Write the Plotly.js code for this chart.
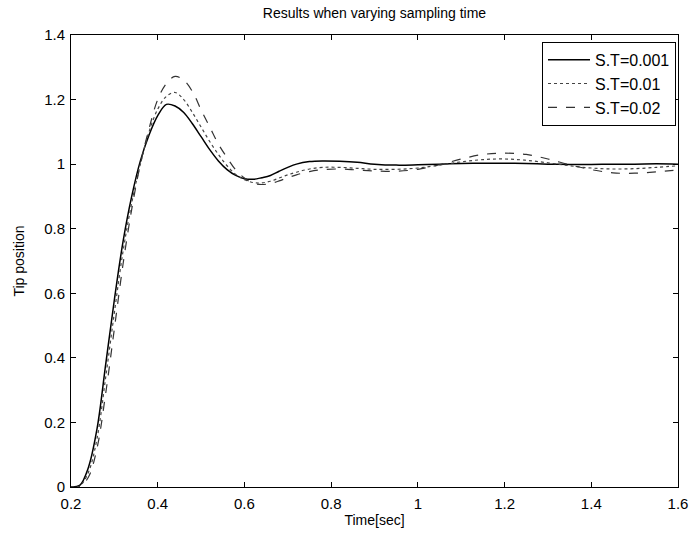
<!DOCTYPE html>
<html>
<head>
<meta charset="utf-8">
<script src="https://cdn.plot.ly/plotly-3.0.1.min.js"></script>
<style>html,body{margin:0;padding:0;background:#fff;}#chart{width:694px;height:541px;}</style>
</head>
<body>
<div id="chart"></div>
<script>
const time = [0.20,0.22,0.24,0.26,0.28,0.30,0.32,0.34,0.36,0.38,0.40,0.42,0.44,0.46,0.48,0.50,0.52,0.54,0.56,0.58,0.60,0.62,0.64,0.66,0.68,0.70,0.72,0.75,0.78,0.82,0.86,0.90,0.95,1.00,1.05,1.10,1.15,1.20,1.25,1.30,1.35,1.40,1.45,1.50,1.55,1.60];
const st001 = [0,0.005,0.06,0.18,0.38,0.58,0.76,0.90,1.01,1.09,1.15,1.185,1.18,1.16,1.125,1.085,1.045,1.01,0.983,0.965,0.955,0.953,0.958,0.965,0.978,0.99,1.0,1.008,1.01,1.009,1.006,1.0,0.997,0.998,1.0,1.002,1.003,1.003,1.002,1.0,0.999,0.999,1.0,1.0,1.001,1.0];
const st01 = [0,0.003,0.045,0.15,0.34,0.54,0.73,0.88,1.0,1.1,1.17,1.21,1.222,1.2,1.16,1.115,1.07,1.03,0.995,0.968,0.952,0.943,0.942,0.947,0.957,0.967,0.975,0.985,0.99,0.99,0.987,0.984,0.984,0.988,0.997,1.007,1.014,1.016,1.012,1.004,0.995,0.988,0.985,0.986,0.99,0.995];
const st02 = [0,0.001,0.03,0.12,0.29,0.49,0.69,0.86,1.0,1.11,1.2,1.25,1.272,1.26,1.225,1.168,1.115,1.062,1.02,0.982,0.957,0.941,0.937,0.94,0.948,0.958,0.967,0.977,0.983,0.985,0.982,0.979,0.978,0.984,0.998,1.016,1.03,1.034,1.03,1.016,0.998,0.983,0.973,0.972,0.976,0.982];
const names = ['S.T=0.001','S.T=0.01','S.T=0.02'];
const xTicks = [0.2,0.4,0.6,0.8,1,1.2,1.4,1.6];
const yTicks = [0,0.2,0.4,0.6,0.8,1,1.2,1.4];

const fam = '"Liberation Sans", Arial, sans-serif';
const traces = [
  {x: time, y: st001, name: names[0], mode: 'lines', line: {color: '#000', width: 1.5, shape: 'spline', dash: 'solid'}},
  {x: time, y: st01, name: names[1], mode: 'lines', line: {color: '#444', width: 1.2, shape: 'spline', dash: 'dot'}},
  {x: time, y: st02, name: names[2], mode: 'lines', line: {color: '#333', width: 1.2, shape: 'spline', dash: 'dash'}}
];
const axisCommon = {showgrid: false, zeroline: false, showline: true, linecolor: '#000', linewidth: 1,
  mirror: 'ticks', ticks: 'inside', ticklen: 5, tickcolor: '#000', tickfont: {family: fam, size: 15, color: '#000'}};
const layout = {
  width: 694, height: 541,
  margin: {l: 71, r: 16, t: 35, b: 54},
  paper_bgcolor: '#fff', plot_bgcolor: '#fff',
  font: {family: fam, size: 14, color: '#000'},
  title: {text: 'Results when varying sampling time', font: {family: fam, size: 14, color: '#000'}, xref: 'paper', x: 0.5, xanchor: 'center', yref: 'container', y: 0.975, yanchor: 'middle'},
  xaxis: Object.assign({}, axisCommon, {range: [0.2, 1.6], tickvals: xTicks, ticklabelstandoff: 3, title: {text: 'Time[sec]', font: {family: fam, size: 14}, standoff: 4}}),
  yaxis: Object.assign({}, axisCommon, {range: [0, 1.4], tickvals: yTicks, ticklabelstandoff: 2, title: {text: 'Tip position', font: {family: fam, size: 14}, standoff: 16}}),
  showlegend: true,
  legend: {x: 0.9967, xanchor: 'right', y: 0.985, yanchor: 'top', bgcolor: '#fff', bordercolor: '#000', borderwidth: 1,
    font: {family: fam, size: 16, color: '#000'}, tracegroupgap: 0, itemwidth: 42}
};
Plotly.newPlot('chart', traces, layout, {displayModeBar: false, staticPlot: true});
</script>
</body>
</html>
